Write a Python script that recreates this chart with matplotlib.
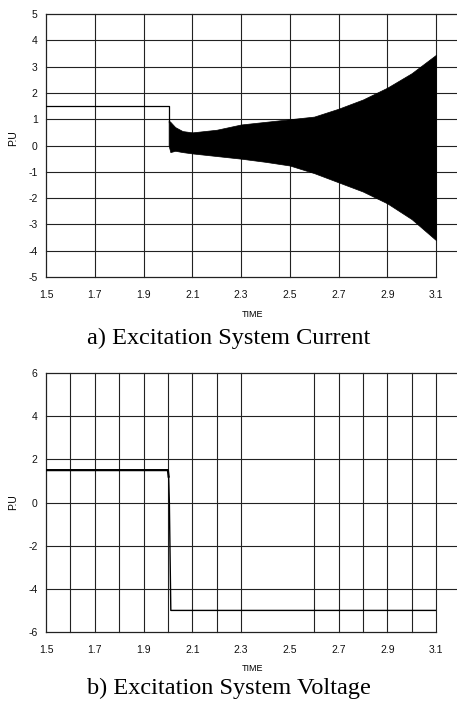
import numpy as np
import matplotlib.pyplot as plt

plt.rcParams['axes.unicode_minus'] = False
plt.rcParams['font.family'] = ['Liberation Sans', 'DejaVu Sans']

# ---- data ----
# a) excitation current: pre-fault level, then envelope of the growing oscillation
cur_step_t = [1.5, 2.003, 2.003]
cur_step_v = [1.5, 1.5, 0.9]
env_t = [2.003, 2.01, 2.03, 2.06, 2.1, 2.2, 2.3, 2.4, 2.5, 2.6, 2.7, 2.8, 2.9, 3.0, 3.1]
env_hi = [0.95, 0.9, 0.7, 0.55, 0.5, 0.6, 0.8, 0.9, 1.0, 1.1, 1.4, 1.75, 2.2, 2.75, 3.45]
env_lo = [0.0, -0.25, -0.2, -0.25, -0.3, -0.4, -0.5, -0.62, -0.76, -1.05, -1.4, -1.75, -2.2, -2.8, -3.6]

# b) excitation voltage
vol_pre_t = [1.5, 2.0, 2.003]
vol_pre_v = [1.5, 1.5, 1.2]
vol_post_t = [2.003, 2.006, 2.012, 3.1]
vol_post_v = [1.2, 0.0, -5.0, -5.0]

xticks = [1.5, 1.7, 1.9, 2.1, 2.3, 2.5, 2.7, 2.9, 3.1]
xtick_labels = ["1.5", "1.7", "1.9", "2.1", "2.3", "2.5", "2.7", "2.9", "3.1"]

grid_a_x = [1.7, 1.9, 2.1, 2.3, 2.5, 2.7, 2.9, 3.1]
grid_a_y = [-4, -3, -2, -1, 0, 1, 2, 3, 4]
grid_b_x = [1.6, 1.7, 1.8, 1.9, 2.0, 2.1, 2.2, 2.3, 2.6, 2.7, 2.8, 2.9, 3.0, 3.1]
grid_b_y = [-4, -2, 0, 2, 4]

fig = plt.figure(figsize=(4.57, 7.09), dpi=100)
ax1 = fig.add_axes([0.1007, 0.6093, 0.8534, 0.3709])
ax2 = fig.add_axes([0.1007, 0.1086, 0.8534, 0.3653])

ext = (457 - 46) / 390.0  # horizontal rules run past the last gridline


def frame(ax, ylim, yticks, gx, gy):
    ax.set_xlim(1.5, 3.1)
    ax.set_ylim(*ylim)
    for x in gx:
        ax.axvline(x, color='#222222', lw=0.8, zorder=1, clip_on=False)
    for y in gy:
        ax.axhline(y, xmax=ext, color='#222222', lw=0.8, zorder=1, clip_on=False)
    ax.axhline(ylim[1], xmax=ext, color='#222222', lw=0.9, zorder=1, clip_on=False)
    for s in ['top', 'right']:
        ax.spines[s].set_visible(False)
    for s in ['left', 'bottom']:
        ax.spines[s].set_color('#222222')
        ax.spines[s].set_linewidth(0.9)
    ax.set_xticks(xticks)
    ax.set_xticklabels(xtick_labels)
    ax.set_yticks(yticks)
    ax.tick_params(length=0, labelsize=7.5, colors='#111111')
    ax.tick_params(axis='x', pad=9)
    ax.tick_params(axis='y', pad=6)
    ax.set_xlabel('TIME', fontsize=6.5)
    ax.xaxis.set_label_coords(0.53, -0.125)
    ax.set_ylabel('P.U', fontsize=7.5)


frame(ax1, (-5, 5), [-5, -4, -3, -2, -1, 0, 1, 2, 3, 4, 5], grid_a_x, grid_a_y)
ax1.yaxis.set_label_coords(-0.072, 0.53)
ax1.plot(cur_step_t, cur_step_v, color='black', lw=0.9, zorder=3)
ax1.fill_between(env_t, env_lo, env_hi, color='black', lw=0.5, zorder=3)

frame(ax2, (-6, 6), [-6, -4, -2, 0, 2, 4, 6], grid_b_x, grid_b_y)
ax2.yaxis.set_label_coords(-0.072, 0.5)
ax2.plot(vol_pre_t, vol_pre_v, color='black', lw=1.6, zorder=3)
ax2.plot(vol_post_t, vol_post_v, color='black', lw=1.0, zorder=3)

fig.text(0.5, 1 - 338 / 709, 'a) Excitation System Current', ha='center', va='center',
         family='Liberation Serif', fontsize=17.5)
fig.text(0.5, 1 - 688 / 709, 'b) Excitation System Voltage', ha='center', va='center',
         family='Liberation Serif', fontsize=17.5)

fig.savefig('out.png', dpi=100, facecolor='white')
